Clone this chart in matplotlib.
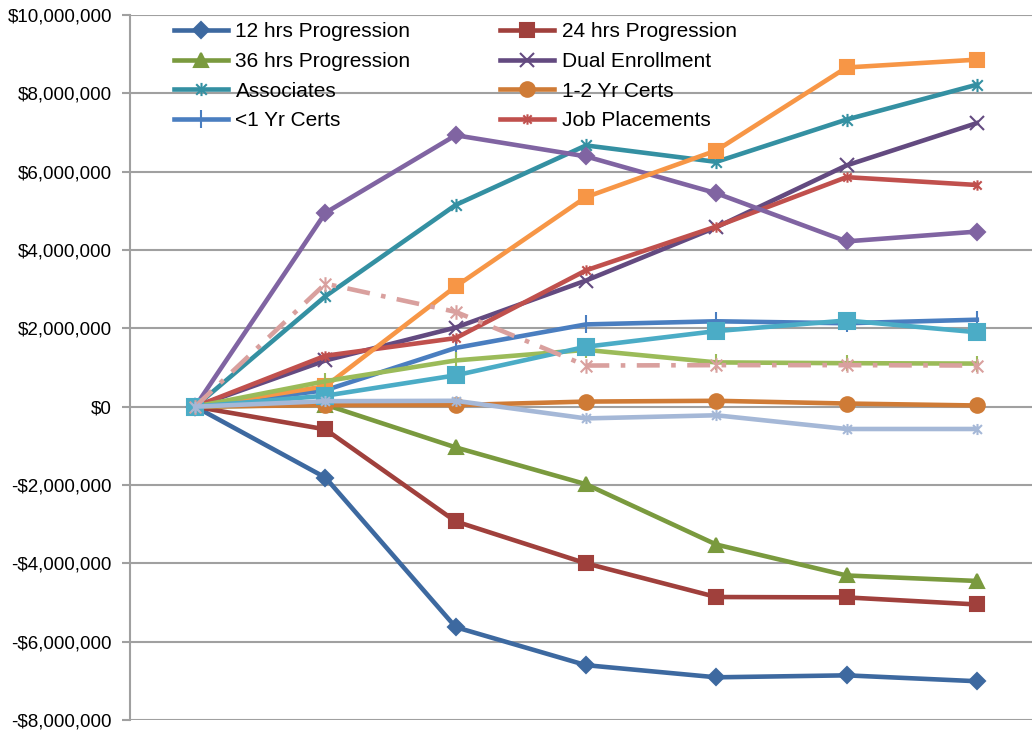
import matplotlib
matplotlib.use("Agg")
import matplotlib.pyplot as plt
from matplotlib.path import Path
from matplotlib.ticker import FuncFormatter, MultipleLocator

plt.rcParams['font.family'] = ['Liberation Sans', 'DejaVu Sans']

x = [0, 1, 2, 3, 4, 5, 6]

hrs12 = [0, -1.81e6, -5.63e6, -6.60e6, -6.91e6, -6.86e6, -7.01e6]
hrs24 = [0, -0.58e6, -2.93e6, -4.00e6, -4.86e6, -4.87e6, -5.05e6]
hrs36 = [0, 0.05e6, -1.04e6, -1.98e6, -3.52e6, -4.31e6, -4.45e6]
dual = [0, 1.18e6, 2.02e6, 3.22e6, 4.58e6, 6.16e6, 7.24e6]
associates = [0, 2.82e6, 5.15e6, 6.67e6, 6.25e6, 7.33e6, 8.22e6]
certs12 = [0, 0.04e6, 0.04e6, 0.13e6, 0.15e6, 0.08e6, 0.03e6]
certs1 = [0, 0.42e6, 1.50e6, 2.10e6, 2.18e6, 2.13e6, 2.22e6]
jobs = [0, 1.30e6, 1.75e6, 3.48e6, 4.60e6, 5.86e6, 5.66e6]

extra_purple = [0, 4.95e6, 6.93e6, 6.39e6, 5.45e6, 4.22e6, 4.47e6]
extra_orange = [0, 0.52e6, 3.07e6, 5.35e6, 6.54e6, 8.66e6, 8.86e6]
extra_green = [0, 0.65e6, 1.18e6, 1.45e6, 1.13e6, 1.11e6, 1.10e6]
extra_cyan = [0, 0.28e6, 0.80e6, 1.53e6, 1.93e6, 2.20e6, 1.90e6]
extra_pink = [0, 3.14e6, 2.42e6, 1.05e6, 1.06e6, 1.06e6, 1.05e6]
extra_gray = [0, 0.14e6, 0.15e6, -0.30e6, -0.22e6, -0.57e6, -0.57e6]

labels = ["12 hrs Progression", "24 hrs Progression", "36 hrs Progression",
          "Dual Enrollment", "Associates", "1-2 Yr Certs", "<1 Yr Certs",
          "Job Placements"]

star = Path([(-1, -1), (1, 1), (-1, 1), (1, -1), (0, -1.25), (0, 1.25)],
            [Path.MOVETO, Path.LINETO, Path.MOVETO, Path.LINETO, Path.MOVETO, Path.LINETO])

fig = plt.figure(figsize=(10.32, 7.33), dpi=100)
ax = fig.add_axes([130 / 1032, 13 / 733, 1 - 130 / 1032, 705 / 733])

lw = 3.3
series = [
    (hrs12, "#3D69A0", "D", 8.5, labels[0], "-"),
    (hrs24, "#A0403C", "s", 10, labels[1], "-"),
    (hrs36, "#7A9A3E", "^", 10, labels[2], "-"),
    (dual, "#634A80", "x", 10.5, labels[3], "-"),
    (associates, "#3490A2", star, 9.5, labels[4], "-"),
    (certs12, "#CF7B36", "o", 10.5, labels[5], "-"),
    (certs1, "#4A7EC0", "|", 13, labels[6], "-"),
    (jobs, "#C0504D", star, 7.5, labels[7], "-"),
    (extra_purple, "#8064A2", "D", 8.5, "_nolegend_", "-"),
    (extra_orange, "#F79646", "s", 10, "_nolegend_", "-"),
    (extra_green, "#9BBB59", "|", 12, "_nolegend_", "-"),
    (extra_cyan, "#4BACC6", "s", 11.5, "_nolegend_", "-"),
    (extra_pink, "#D9A09E", star, 10.5, "_nolegend_", (0, (5, 2.5, 1, 2.5))),
    (extra_gray, "#A5B8D7", star, 8, "_nolegend_", "-"),
]

handles = []
for data, color, mk, ms, lab, ls in series:
    line, = ax.plot(x, data, color=color, linewidth=lw, linestyle=ls,
                    marker=mk, markersize=ms, markerfacecolor=color,
                    markeredgecolor=color, markeredgewidth=1.5, label=lab,
                    zorder=3)
    if lab != "_nolegend_":
        handles.append(line)

ax.set_xlim(-0.5, (1032 - 195) / 130.3)
ax.set_ylim(-8e6, 10e6)
ax.yaxis.set_major_locator(MultipleLocator(2e6))


def fmt(v, pos):
    if v < 0:
        return "-${:,.0f}".format(-v)
    return "${:,.0f}".format(v)


ax.yaxis.set_major_formatter(FuncFormatter(fmt))
ax.grid(axis='y', color='#A0A0A0', linewidth=1.5, zorder=0)
ax.set_axisbelow(True)
ax.set_xticks([])
for s in ['top', 'right', 'bottom']:
    ax.spines[s].set_visible(False)
ax.spines['left'].set_color('#A0A0A0')
ax.spines['left'].set_linewidth(1.5)
ax.tick_params(axis='y', length=6, width=1.5, color='#A0A0A0',
               labelsize=13.5, labelcolor='black', pad=7)

order = [0, 2, 4, 6, 1, 3, 5, 7]
leg = fig.legend([handles[i] for i in order], [labels[i] for i in order],
                 ncol=2, loc='upper left',
                 bbox_to_anchor=(174 / 1032, 1 - 22 / 733),
                 frameon=False, fontsize=15, handlelength=2.6,
                 handletextpad=0.35, columnspacing=4.3, labelspacing=0.52,
                 borderpad=0, borderaxespad=0, numpoints=1)

fig.savefig("out.png", dpi=100)
